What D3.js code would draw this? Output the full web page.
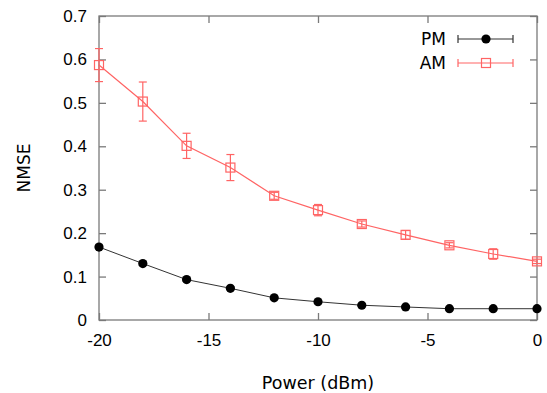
<!DOCTYPE html>
<html>
<head>
<meta charset="utf-8">
<script src="https://cdn.jsdelivr.net/npm/d3@7"></script>
<style>
  body { margin: 0; background: #fff; }
  svg { display: block; font-family: "DejaVu Sans", Verdana, sans-serif; }
</style>
</head>
<body>
<div id="chart"></div>
<script>
const power = [-20, -18, -16, -14, -12, -10, -8, -6, -4, -2, 0];
const pmValues = [0.168, 0.130, 0.093, 0.073, 0.051, 0.042, 0.034, 0.030, 0.026, 0.026, 0.026];
const pmErrors = [0.004, 0.004, 0.003, 0.003, 0.002, 0.002, 0.002, 0.002, 0.002, 0.002, 0.002];
const amValues = [0.587, 0.503, 0.401, 0.351, 0.286, 0.253, 0.221, 0.196, 0.172, 0.152, 0.135];
const amErrors = [0.038, 0.045, 0.029, 0.030, 0.008, 0.013, 0.007, 0.010, 0.006, 0.012, 0.005];
const xTicks = [-20, -15, -10, -5, 0];
const yTicks = [0, 0.1, 0.2, 0.3, 0.4, 0.5, 0.6, 0.7];

const W = 547, H = 393;
const margin = { top: 16, right: 10, bottom: 73, left: 99 };
const width = 537 - margin.left;
const height = 320 - margin.top;

const red = "#ff6464";
const frame = "#7a7a7a";

const svg = d3.select("#chart").append("svg")
    .attr("width", W)
    .attr("height", H);

const g = svg.append("g")
    .attr("transform", `translate(${margin.left},${margin.top})`);

const x = d3.scaleLinear().domain([-20, 0]).range([0, width]);
const y = d3.scaleLinear().domain([0, 0.7]).range([height, 0]);

const tickLen = 7;

// ticks on all four sides, pointing inward
g.append("g")
    .attr("transform", `translate(0,${height})`)
    .call(d3.axisBottom(x).tickValues(xTicks).tickSizeInner(-tickLen).tickSizeOuter(0).tickPadding(14).tickFormat(d => String(d)))
    .call(a => a.select(".domain").remove());
g.append("g")
    .call(d3.axisTop(x).tickValues(xTicks).tickSizeInner(-tickLen).tickSizeOuter(0).tickFormat(""))
    .call(a => a.select(".domain").remove());
g.append("g")
    .call(d3.axisLeft(y).tickValues(yTicks).tickSizeInner(-tickLen).tickSizeOuter(0).tickPadding(12).tickFormat(d => d === 0 ? "0" : d3.format(".1f")(d)))
    .call(a => a.select(".domain").remove());
g.append("g")
    .attr("transform", `translate(${width},0)`)
    .call(d3.axisRight(y).tickValues(yTicks).tickSizeInner(-tickLen).tickSizeOuter(0).tickFormat(""))
    .call(a => a.select(".domain").remove());

g.selectAll(".tick line").attr("stroke", frame).attr("stroke-width", 1.3);
g.selectAll(".tick text").attr("fill", "#000").style("font-size", "17px");

g.append("rect")
    .attr("width", width)
    .attr("height", height)
    .attr("fill", "none")
    .attr("stroke", frame)
    .attr("stroke-width", 1.3);

// axis titles
svg.append("text")
    .attr("x", margin.left + width / 2)
    .attr("y", 389)
    .attr("text-anchor", "middle")
    .style("font-size", "17.5px")
    .text("Power (dBm)");

svg.append("text")
    .attr("transform", "translate(30,168) rotate(-90)")
    .attr("text-anchor", "middle")
    .style("font-size", "17px")
    .text("NMSE");

const pm = power.map((p, i) => ({ x: p, y: pmValues[i], e: pmErrors[i] }));
const am = power.map((p, i) => ({ x: p, y: amValues[i], e: amErrors[i] }));

const line = d3.line().x(d => x(d.x)).y(d => y(d.y));
const cap = 4;

function errorBars(data, color) {
    const eb = g.append("g").attr("stroke", color).attr("stroke-width", 1.2);
    data.forEach(d => {
        const cx = x(d.x);
        eb.append("line").attr("x1", cx).attr("x2", cx).attr("y1", y(d.y - d.e)).attr("y2", y(d.y + d.e));
        eb.append("line").attr("x1", cx - cap).attr("x2", cx + cap).attr("y1", y(d.y - d.e)).attr("y2", y(d.y - d.e));
        eb.append("line").attr("x1", cx - cap).attr("x2", cx + cap).attr("y1", y(d.y + d.e)).attr("y2", y(d.y + d.e));
    });
}

// PM series
g.append("path").datum(pm).attr("d", line).attr("fill", "none").attr("stroke", "#333").attr("stroke-width", 1);
errorBars(pm, "#333");
g.selectAll(".pm").data(pm).enter().append("circle")
    .attr("cx", d => x(d.x)).attr("cy", d => y(d.y)).attr("r", 4.6).attr("fill", "#000");

// AM series
g.append("path").datum(am).attr("d", line).attr("fill", "none").attr("stroke", red).attr("stroke-width", 1.2);
errorBars(am, red);
g.selectAll(".am").data(am).enter().append("rect")
    .attr("x", d => x(d.x) - 4.5).attr("y", d => y(d.y) - 4.5)
    .attr("width", 9).attr("height", 9)
    .attr("fill", "none").attr("stroke", red).attr("stroke-width", 1.2);

// legend
const legend = svg.append("g");
const legendItems = [
    { name: "PM", color: "#333", y: 39, marker: "circle" },
    { name: "AM", color: red, y: 63, marker: "square" }
];
legendItems.forEach(it => {
    legend.append("text")
        .attr("x", 446).attr("y", it.y).attr("dy", "0.35em")
        .attr("text-anchor", "end").style("font-size", "17px").text(it.name);
    const lg = legend.append("g").attr("stroke", it.color).attr("stroke-width", 1.2);
    lg.append("line").attr("x1", 458).attr("x2", 513).attr("y1", it.y).attr("y2", it.y);
    lg.append("line").attr("x1", 458).attr("x2", 458).attr("y1", it.y - 4).attr("y2", it.y + 4);
    lg.append("line").attr("x1", 513).attr("x2", 513).attr("y1", it.y - 4).attr("y2", it.y + 4);
    if (it.marker === "circle") {
        legend.append("circle").attr("cx", 486).attr("cy", it.y).attr("r", 4.6).attr("fill", "#000");
    } else {
        legend.append("rect").attr("x", 481.5).attr("y", it.y - 4.5).attr("width", 9).attr("height", 9)
            .attr("fill", "none").attr("stroke", it.color).attr("stroke-width", 1.2);
    }
});
</script>
</body>
</html>
